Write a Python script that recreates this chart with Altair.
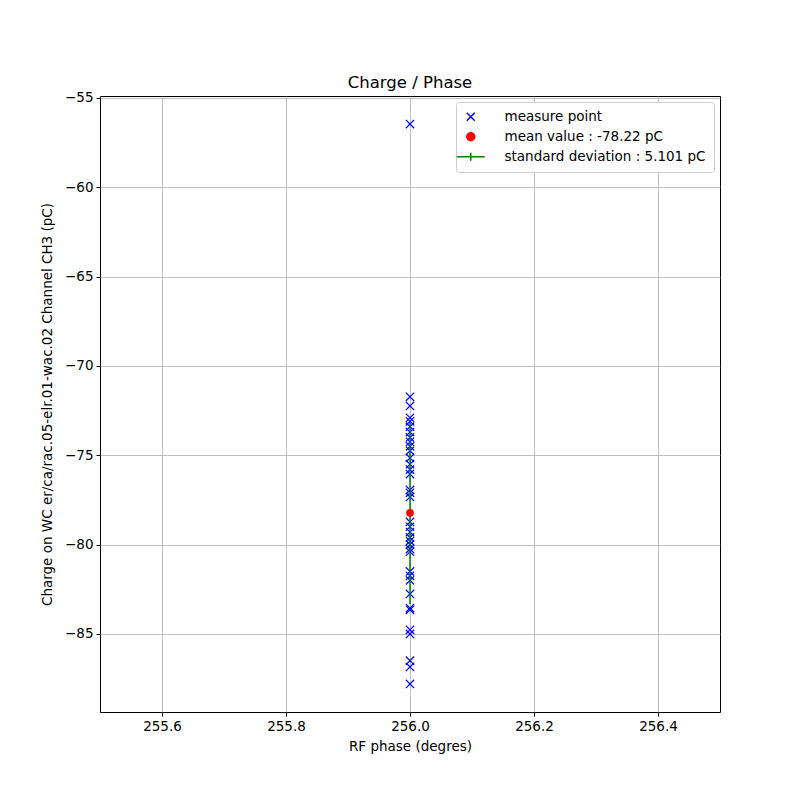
import altair as alt
import pandas as pd

charges = [-56.46, -71.73, -72.24, -72.9, -73.1, -73.4, -73.7, -74.0, -74.25, -74.5,
           -74.75, -75.15, -75.5, -75.8, -76.05, -76.94, -77.1, -77.33, -78.73, -79.0,
           -79.3, -79.6, -79.8, -80.0, -80.25, -80.4, -81.5, -81.75, -82.0, -82.76,
           -83.55, -83.65, -84.77, -85.0, -86.5, -86.85, -87.8]
phases = [256.0] * len(charges)
mean_charge = -78.22
std_charge = 5.101
series_names = ["measure point", "mean value : -78.22 pC", "standard deviation : 5.101 pC"]
series_colors = ["#0000ff", "#ff0000", "#008000"]
x_ticks = [255.6, 255.8, 256.0, 256.2, 256.4]
y_ticks = [-55, -60, -65, -70, -75, -80, -85]

pts = pd.DataFrame({"phase": phases, "charge": charges, "series": series_names[0]})
mean_df = pd.DataFrame({"phase": [256.0], "charge": [mean_charge], "series": [series_names[1]]})
err_df = pd.DataFrame({"phase": [256.0], "lo": [mean_charge - std_charge],
                       "hi": [mean_charge + std_charge], "series": [series_names[2]]})

x_path = "M-1,-1L1,1M1,-1L-1,1"
std_path = "M-3.5,0L3.5,0M0,-1L0,1"

xs = alt.Scale(domain=[255.5, 256.5], nice=False, zero=False)
ys = alt.Scale(domain=[-89.37, -54.89], nice=False, zero=False)
xax = alt.Axis(values=x_ticks, format=".1f", title="RF phase (degres)")
yax = alt.Axis(values=y_ticks, format="d",
               title="Charge on WC er/ca/rac.05-elr.01-wac.02 Channel CH3 (pC)")

stroke_scale = alt.Scale(domain=series_names, range=series_colors)
fill_scale = alt.Scale(domain=series_names, range=["transparent", "#ff0000", "transparent"])
shape_scale = alt.Scale(domain=series_names, range=[x_path, "circle", std_path])
leg = alt.Legend(title=None, orient="top-right")

err = alt.Chart(err_df).mark_rule(strokeWidth=1.5).encode(
    x=alt.X("phase:Q", scale=xs, axis=xax),
    y=alt.Y("lo:Q", scale=ys, axis=yax),
    y2="hi:Q",
    stroke=alt.Stroke("series:N", scale=stroke_scale, legend=leg),
)

points = alt.Chart(pts).mark_point(filled=False, strokeWidth=1.2, size=70, opacity=1).encode(
    x=alt.X("phase:Q", scale=xs),
    y=alt.Y("charge:Q", scale=ys),
    stroke=alt.Stroke("series:N", scale=stroke_scale, legend=leg),
    fill=alt.Fill("series:N", scale=fill_scale, legend=leg),
    shape=alt.Shape("series:N", scale=shape_scale, legend=leg),
)

mean_pt = alt.Chart(mean_df).mark_point(filled=True, size=60, opacity=1, strokeWidth=0).encode(
    x=alt.X("phase:Q", scale=xs),
    y=alt.Y("charge:Q", scale=ys),
    stroke=alt.Stroke("series:N", scale=stroke_scale, legend=leg),
    fill=alt.Fill("series:N", scale=fill_scale, legend=leg),
    shape=alt.Shape("series:N", scale=shape_scale, legend=leg),
)

chart = alt.layer(points, err, mean_pt).properties(
    width=620, height=616,
    title=alt.Title("Charge / Phase", fontSize=16.5, fontWeight="normal", font="DejaVu Sans", offset=-1),
    autosize=alt.AutoSizeParams(type="none"),
    padding={"left": 92, "top": 88, "right": 72, "bottom": 80},
).configure_view(stroke="black", strokeWidth=1).configure_axis(
    labelFont="DejaVu Sans", titleFont="DejaVu Sans", labelFontSize=13.5, titleFontSize=13.5,
    titleFontWeight="normal", labelColor="black", titleColor="black",
    grid=True, gridColor="#b0b0b0", gridWidth=0.8, domain=False,
    tickColor="black", tickSize=4, labelPadding=3,
).configure_axisY(titlePadding=10).configure_axisX(titlePadding=7).configure_legend(
    labelFont="DejaVu Sans", labelFontSize=13.5, labelColor="black", labelLimit=400,
    fillColor="white", strokeColor="#cccccc", cornerRadius=3, padding=8,
    offset=6, rowPadding=5, symbolSize=64, symbolStrokeWidth=1.5, labelOffset=27,
)

chart.save("out.html", embed_options={"renderer": "svg", "actions": False})
